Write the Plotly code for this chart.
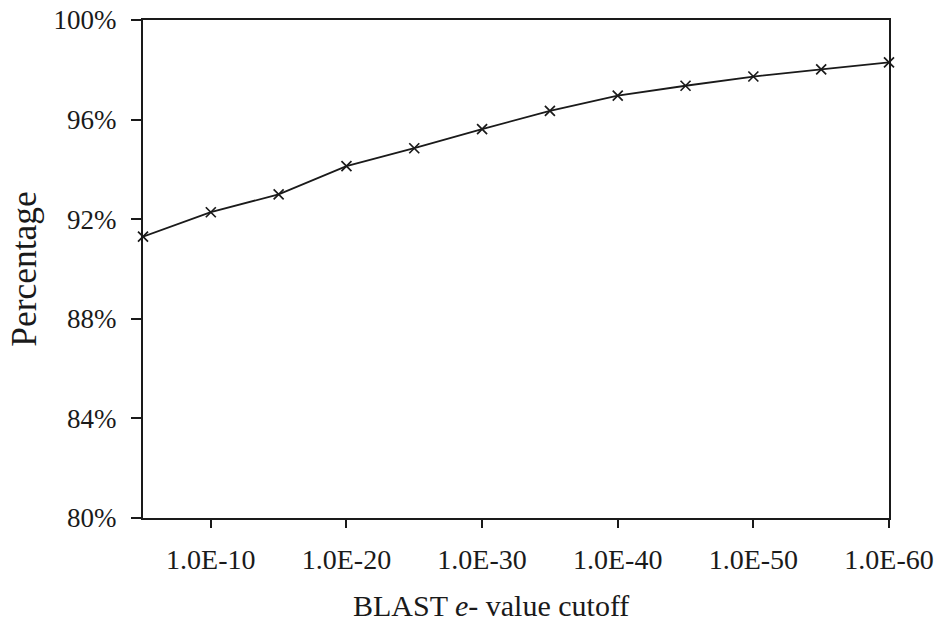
import plotly.graph_objects as go

cutoffs = ["1.0E-5", "1.0E-10", "1.0E-15", "1.0E-20", "1.0E-25", "1.0E-30",
           "1.0E-35", "1.0E-40", "1.0E-45", "1.0E-50", "1.0E-55", "1.0E-60"]
percentage = [91.3, 92.28, 93.0, 94.13, 94.85, 95.62, 96.35, 96.96, 97.36, 97.73, 98.02, 98.3]
tick_labels = ["1.0E-10", "1.0E-20", "1.0E-30", "1.0E-40", "1.0E-50", "1.0E-60"]
y_ticks = [80, 84, 88, 92, 96, 100]
x_title = "BLAST <i>e</i>- value cutoff"
y_title = "Percentage"

x_idx = list(range(len(cutoffs)))
tick_idx = [cutoffs.index(t) for t in tick_labels]

font_family = "Liberation Serif, Times New Roman, serif"

fig = go.Figure(go.Scatter(
    x=x_idx, y=percentage, mode="lines+markers",
    line=dict(color="#1a1a1a", width=1.8),
    marker=dict(symbol="x-thin", size=10, line=dict(color="#1a1a1a", width=1.7), color="#1a1a1a"),
    cliponaxis=False, hovertext=cutoffs,
))

fig.update_layout(
    width=936, height=623,
    margin=dict(l=143, r=47, t=20, b=105),
    paper_bgcolor="white", plot_bgcolor="white",
    font=dict(family=font_family, color="#1a1a1a", size=28),
    showlegend=False,
    xaxis=dict(
        range=[0, len(cutoffs) - 1],
        tickvals=tick_idx, ticktext=tick_labels,
        ticks="outside", ticklen=8, tickwidth=1.5, tickcolor="#1a1a1a",
        showline=True, linecolor="#1a1a1a", linewidth=2, mirror=True,
        showgrid=False, zeroline=False, automargin=False,
        tickfont=dict(size=28),
        ticklabelstandoff=7,
    ),
    yaxis=dict(
        range=[80, 100],
        tickvals=y_ticks, ticktext=[f"{v}%" for v in y_ticks],
        ticks="outside", ticklen=10, tickwidth=1.5, tickcolor="#1a1a1a",
        showline=True, linecolor="#1a1a1a", linewidth=2, mirror=True,
        showgrid=False, zeroline=False, automargin=False,
        tickfont=dict(size=27),
        ticklabelstandoff=9,
        title=dict(text=y_title, font=dict(size=35.5), standoff=6),
    ),
    annotations=[dict(
        text=x_title, xref="paper", yref="paper",
        x=0.4665, y=-0.176, xanchor="center", yanchor="middle",
        showarrow=False, font=dict(size=30),
    )],
)

fig.write_html("out.html", config={"displayModeBar": False},
               post_script="document.body.style.margin='0';document.body.style.padding='0';")
